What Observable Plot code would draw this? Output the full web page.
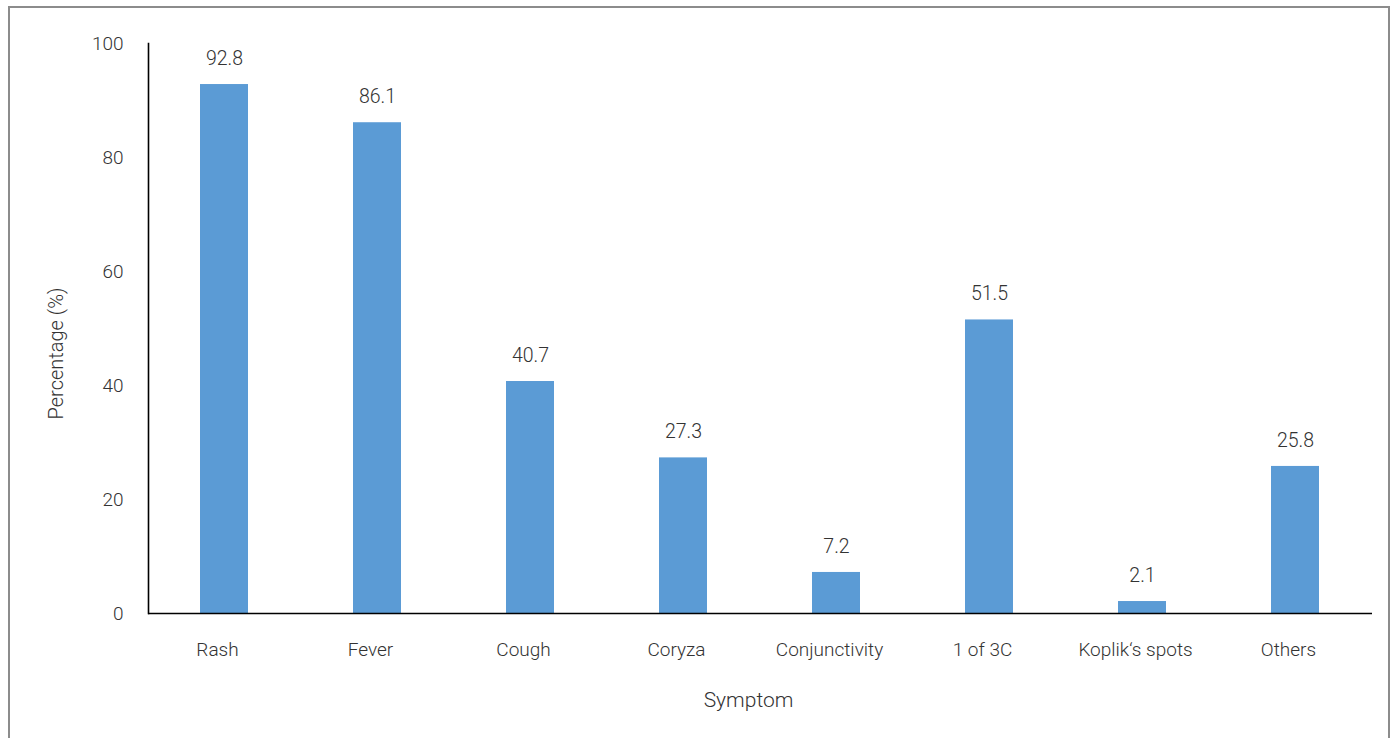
<!DOCTYPE html>
<html>
<head>
<meta charset="utf-8">
<script src="https://cdn.jsdelivr.net/npm/d3@7"></script>
<script src="https://cdn.jsdelivr.net/npm/@observablehq/plot@0.6"></script>
<style>
  html, body { margin: 0; padding: 0; background: #fff; }
  #wrap { position: relative; width: 1394px; height: 738px; overflow: hidden; }
  #border { position: absolute; left: 8px; top: 6px; width: 1382px; height: 760px; border: 2px solid #8c8c8c; box-sizing: border-box; pointer-events: none; }
  #chart { position: absolute; left: 0; top: 0; }
</style>
</head>
<body>
<div id="wrap">
  <div id="chart"></div>
  <div id="border"></div>
</div>
<script>
// Share of cases presenting each symptom
const symptoms = ["Rash", "Fever", "Cough", "Coryza", "Conjunctivity", "1 of 3C", "Koplik‘s spots", "Others"];
const percentages = [92.8, 86.1, 40.7, 27.3, 7.2, 51.5, 2.1, 25.8];
const yTicks = [0, 20, 40, 60, 80, 100];
const xTitle = "Symptom";
const yTitle = "Percentage (%)";

const data = symptoms.map((s, i) => ({symptom: s, pct: percentages[i]}));

const font = "Roboto, 'Liberation Sans', sans-serif";

const chart = Plot.plot({
  width: 1394,
  height: 738,
  marginLeft: 148,
  marginRight: 22,
  marginTop: 43,
  marginBottom: 125,
  style: {fontFamily: font, fontSize: "19px", fontWeight: 300, color: "#333", background: "transparent"},
  x: {domain: symptoms, paddingInner: 0.686, paddingOuter: 0.343},
  y: {domain: [0, 100]},
  marks: [
    Plot.barY(data, {x: "symptom", y: "pct", fill: "#5b9bd5"}),
    Plot.text(data, {x: "symptom", y: "pct", text: d => d.pct.toFixed(1), dy: -26, fontSize: 19.5, fontWeight: 300, fill: "#333"}),
    Plot.axisY({ticks: yTicks, tickSize: 0, tickPadding: 25, fontSize: 19, fontWeight: 300, label: null}),
    Plot.axisX({tickSize: 0, tickPadding: 29, dx: -7, fontSize: 19, fontWeight: 300, label: null}),
    // axis titles
    Plot.text([yTitle], {frameAnchor: "left", textAnchor: "middle", lineAnchor: "middle", dx: -92, dy: 25, rotate: -90, fontSize: 20, fontWeight: 300, fill: "#333"}),
    Plot.text([xTitle], {frameAnchor: "bottom", textAnchor: "middle", lineAnchor: "middle", dx: -12, dy: 87, fontSize: 21, fontWeight: 300, fill: "#333"}),
    Plot.ruleY([0], {stroke: "#000", strokeWidth: 1.6}),
    Plot.frame({anchor: "left", stroke: "#000", strokeWidth: 1.6})
  ]
});

document.getElementById("chart").appendChild(chart);
</script>
</body>
</html>
